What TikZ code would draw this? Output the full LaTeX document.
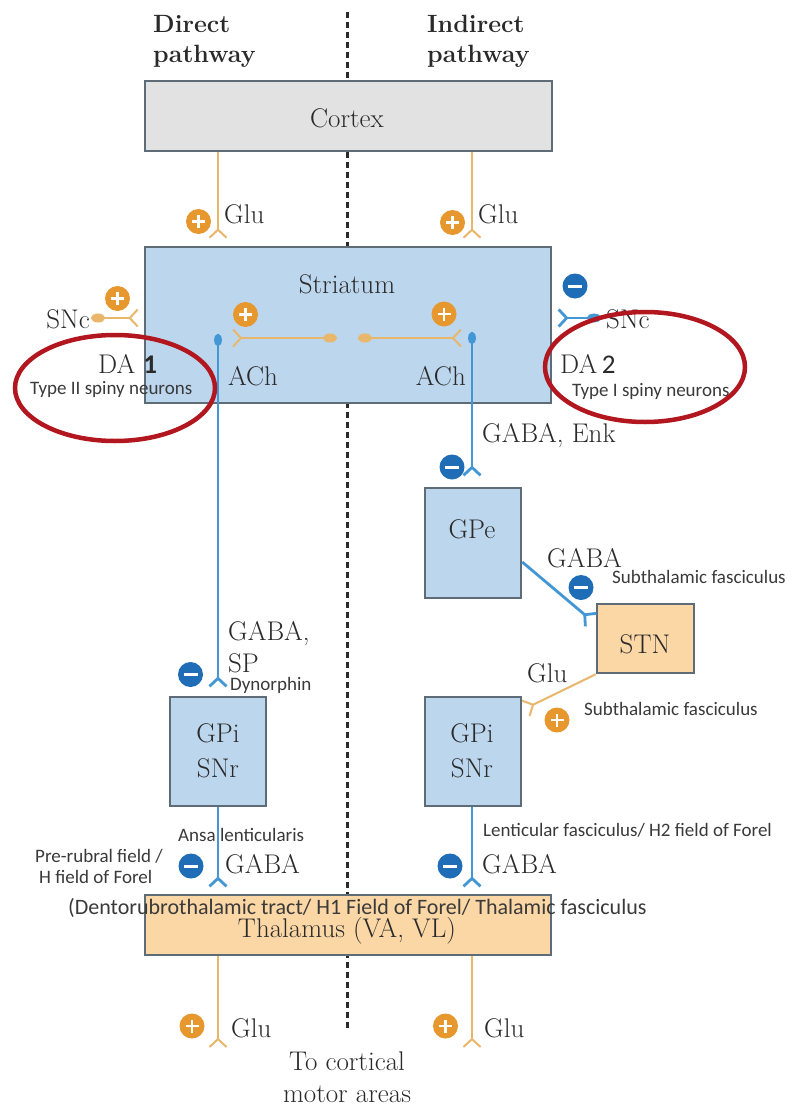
\documentclass[tikz,border=0pt]{standalone}
\usepackage{fontspec}
\newfontfamily\smallsans{Carlito}
\usetikzlibrary{arrows.meta}
\definecolor{orline}{HTML}{E9B76B}
\definecolor{orsign}{HTML}{E6982F}
\definecolor{blline}{HTML}{4297D4}
\definecolor{blsign}{HTML}{1E6DB6}
\definecolor{strfill}{HTML}{BCD6ED}
\definecolor{boxedge}{HTML}{5E6C78}
\definecolor{cortfill}{HTML}{E2E2E2}
\definecolor{thfill}{HTML}{FBD7A6}
\definecolor{ellred}{HTML}{B2161E}
\definecolor{txt}{HTML}{2A2A2A}
\definecolor{stxt}{HTML}{3A3A3A}
\tikzset{
  box/.style={draw=boxedge, line width=2.5pt, inner sep=0pt},
  lab/.style={anchor=base west, inner sep=0pt, text=txt},
  labc/.style={anchor=base, inner sep=0pt, text=txt},
  slab/.style={anchor=base west, inner sep=0pt, text=stxt, font=\smallsans\fontsize{19}{22}\selectfont},
  headlab/.style={anchor=base west, inner sep=0pt, text=txt, font=\bfseries\fontsize{25}{30}\selectfont},
  plussign/.style={circle, fill=orsign, minimum size=25pt, inner sep=0pt,
    path picture={\draw[white,line width=2.8pt]
      ([xshift=-6.5pt]path picture bounding box.center) -- ([xshift=6.5pt]path picture bounding box.center)
      ([yshift=-6.5pt]path picture bounding box.center) -- ([yshift=6.5pt]path picture bounding box.center);}},
  minussign/.style={circle, fill=blsign, minimum size=25pt, inner sep=0pt,
    path picture={\draw[white,line width=3pt]
      ([xshift=-7pt]path picture bounding box.center) -- ([xshift=7pt]path picture bounding box.center);}},
  gluline/.style={draw=orline, line width=2pt},
  gabaline/.style={draw=blline, line width=2.8pt},
  fork/.style={-{Straight Barb[reversed,length=8pt,width=17pt]}},
  hdotfork/.style={{Circle[length=14pt,width=9pt]}-{Straight Barb[reversed,length=8pt,width=17pt]}},
  vdotfork/.style={{Circle[length=12pt,width=8pt]}-{Straight Barb[reversed,length=8pt,width=17pt]}},
  dashline/.style={draw=txt, line width=3pt, dash pattern=on 6pt off 4pt},
  redring/.style={draw=ellred, line width=4.5pt}
}
\begin{document}
\begin{tikzpicture}[x=1pt,y=-1pt, font=\fontsize{27}{32}\selectfont, text=txt]
\useasboundingbox (0,0) rectangle (803,1108);
\fill[white] (0,0) rectangle (803,1108);

% helper coordinates
\coordinate (xL) at (218,0);
\coordinate (xR) at (472,0);
\coordinate (dtop) at (347,12);
\coordinate (dbot) at (347,1030);
\draw[dashline] (dtop) -- (dbot);

% headings
\node[headlab] (dir1) at (153,33) {Direct};
\node[headlab] (dir2) at (153,63) {pathway};
\node[headlab] (ind1) at (427,33) {Indirect};
\node[headlab] (ind2) at (427,63) {pathway};

% boxes
\node[box, fill=cortfill, minimum width=407pt, minimum height=70pt] (cortex) at (348.5,116) {};
\node[labc] (cortexlab) at (347,127) {Cortex};
\node[box, fill=strfill, minimum width=406pt, minimum height=156pt] (str) at (348,325) {};
\node[labc] (strlab) at (347,293) {Striatum};
\node[box, fill=strfill, minimum width=96pt, minimum height=110pt] (gpe) at (473,543) {};
\node[labc] (gpelab) at (472,538) {GPe};
\node[box, fill=strfill, minimum width=96pt, minimum height=109pt] (gpiL) at (218,751.5) {};
\node[labc] (gpiL1) at (218,742) {GPi};
\node[labc] (gpiL2) at (218,777) {SNr};
\node[box, fill=strfill, minimum width=96pt, minimum height=109pt] (gpiR) at (473,751.5) {};
\node[labc] (gpiR1) at (472,742) {GPi};
\node[labc] (gpiR2) at (472,777) {SNr};
\node[box, fill=thfill, minimum width=97pt, minimum height=69pt] (stn) at (645.5,638.5) {};
\node[labc] (stnlab) at (645,653) {STN};
\node[box, fill=thfill, minimum width=406pt, minimum height=60pt] (thal) at (348,925) {};
\node[labc] (thallab) at (347,937) {Thalamus (VA, VL)};

% helper y coordinates
\coordinate (ySNc) at (0,318);
\coordinate (yGPeOut) at (0,562);
\coordinate (ySTNin) at (0,624);
\coordinate (yGPiIn) at (0,710);

% Cortex -> Striatum
\draw[gluline, fork, shorten >=7pt] (cortex.south -| xL) -- (str.north -| xL);
\draw[gluline, fork, shorten >=7pt] (cortex.south -| xR) -- (str.north -| xR);

% SNc inputs
\coordinate (sncLdot) at (91,318);
\draw[gluline, hdotfork, shorten >=5pt] (sncLdot) -- (str.west |- ySNc);
\coordinate (sncRdot) at (601,318);
\draw[gabaline, hdotfork, shorten >=5pt] (sncRdot) -- (str.east |- ySNc);

% ACh interneurons
\coordinate (achLdot) at (337,338);
\coordinate (achLend) at (232,338);
\draw[gluline, hdotfork] (achLdot) -- (achLend);
\coordinate (achRdot) at (358,338);
\coordinate (achRend) at (462,338);
\draw[gluline, hdotfork] (achRdot) -- (achRend);

% Striatum outputs
\coordinate (bdotL) at (218,334);
\draw[gabaline, vdotfork, shorten >=8pt] (bdotL) -- (gpiL.north);
\coordinate (bdotR) at (472,332);
\draw[gabaline, vdotfork, shorten >=10pt] (bdotR) -- (gpe.north -| xR);

% GPe -> STN
\draw[gabaline, fork, shorten >=5pt] (gpe.east |- yGPeOut) -- (stn.west |- ySTNin);
% STN -> GPi
\draw[gluline, fork, shorten >=3pt] (stn.south west) -- (gpiR.east |- yGPiIn);

% GPi -> Thalamus
\draw[gabaline, fork, shorten >=6pt] (gpiL.south) -- (thal.north -| xL);
\draw[gabaline, fork, shorten >=6pt] (gpiR.south -| xR) -- (thal.north -| xR);

% Thalamus -> cortex
\coordinate (gluendL) at (218,1048);
\coordinate (gluendR) at (472,1048);
\draw[gluline, fork] (thal.south -| xL) -- (gluendL);
\draw[gluline, fork] (thal.south -| xR) -- (gluendR);

% signs
\node[plussign] (p1) at (198.5,221.5) {};
\node[plussign] (p2) at (452.5,222.5) {};
\node[plussign] (p3) at (117.5,298.5) {};
\node[plussign] (p4) at (245.5,314.5) {};
\node[plussign] (p5) at (444,314) {};
\node[minussign] (m1) at (575,286) {};
\node[minussign] (m2) at (452,467) {};
\node[minussign] (m3) at (581,587.5) {};
\node[plussign] (p6) at (557,720) {};
\node[minussign] (m4) at (190.5,674.5) {};
\node[minussign] (m5) at (191,866) {};
\node[minussign] (m6) at (450,866) {};
\node[plussign] (p7) at (192,1026) {};
\node[plussign] (p8) at (445.5,1026) {};

% labels
\node[lab] (glu1) at (224,223) {Glu};
\node[lab] (glu2) at (478,223) {Glu};
\node[lab, anchor=base east] (snc1) at (90,328) {SNc};
\node[lab] (snc2) at (606,328) {SNc};
\node[lab] (da1) at (98,373) {DA \textbf{\smallsans 1}};
\node[lab] (da2) at (560,373) {DA\,{\smallsans 2}};
\node[slab] (t2) at (30,394) {Type II spiny neurons};
\node[slab] (t1) at (572,396) {Type I spiny neurons};
\node[lab] (ach1) at (228,385) {ACh};
\node[lab, anchor=base east] (ach2) at (466,385) {ACh};
\node[lab] (gabaenk) at (482,442) {GABA, Enk};
\node[lab] (gabastn) at (547,567) {GABA};
\node[slab] (subth1) at (612,583) {Subthalamic fasciculus};
\node[lab] (glustn) at (527,682) {Glu};
\node[slab] (subth2) at (584,715) {Subthalamic fasciculus};
\node[lab] (gabasp1) at (228,640) {GABA,};
\node[lab] (gabasp2) at (228,672) {SP};
\node[slab] (dyn) at (230,690) {Dynorphin};
\node[slab] (ansa) at (178,841) {Ansa lenticularis};
\node[slab] (prer1) at (35,862) {Pre-rubral field /};
\node[slab] (prer2) at (39,883) {H field of Forel};
\node[lab] (gabaL) at (225,873) {GABA};
\node[slab] (lentic) at (483,836) {Lenticular fasciculus/ H2 field of Forel};
\node[lab] (gabaR) at (482,873) {GABA};
\node[slab, font=\smallsans\fontsize{22}{25}\selectfont] (dento) at (68,914) {(Dentorubrothalamic tract/ H1 Field of Forel/ Thalamic fasciculus};
\node[lab] (glu3) at (231,1037) {Glu};
\node[lab] (glu4) at (484,1037) {Glu};
\node[labc] (tocort1) at (347,1070) {To cortical};
\node[labc] (tocort2) at (347,1102) {motor areas};

% red rings
\draw[redring] (115,388) ellipse [x radius=100, y radius=53];
\draw[redring] (645,367) ellipse [x radius=100, y radius=55];
\end{tikzpicture}
\end{document}
